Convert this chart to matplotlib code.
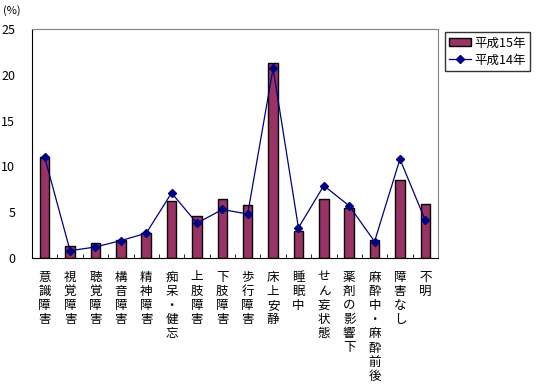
import matplotlib.pyplot as plt
import numpy as np

plt.rcParams['font.family'] = ['Noto Sans CJK JP', 'DejaVu Sans']

categories = ['意識障害', '視覚障害', '聴覚障害', '構音障害', '精神障害', '痴呆・健忘',
              '上肢障害', '下肢障害', '歩行障害', '床上安静', '睡眠中', 'せん妄状態',
              '薬剤の影響下', '麻酔中・麻酔前後', '障害なし', '不明']
h15 = [11.0, 1.3, 1.6, 2.0, 2.7, 6.2, 4.6, 6.4, 5.8, 21.3, 2.9, 6.4, 5.5, 2.0, 8.5, 5.9]
h14 = [11.0, 0.8, 1.2, 1.9, 2.7, 7.1, 3.8, 5.3, 4.8, 20.7, 3.3, 7.9, 5.7, 1.8, 10.8, 4.1]

fig = plt.figure(figsize=(5.39, 3.89), dpi=100)
ax = fig.add_axes([32 / 539, 1 - 258 / 389, 406 / 539, 229 / 389])

x = np.arange(len(categories))
bars = ax.bar(x, h15, width=0.37, color='#993366', edgecolor='black', linewidth=1, label='平成15年', zorder=2)
line, = ax.plot(x, h14, color='#000080', linewidth=0.9, marker='D', markersize=4.5, label='平成14年', zorder=3)

ax.set_xlim(-0.5, len(categories) - 0.5)
ax.set_ylim(0, 25)
ax.set_yticks([0, 5, 10, 15, 20, 25])
ax.tick_params(axis='y', length=0, labelsize=9, pad=12)

ax.set_xticks(x)
ax.set_xticklabels(['\n'.join(c) for c in categories], fontsize=9, linespacing=1.12, va='top')
ax.tick_params(axis='x', which='major', length=0, pad=9)
ax.set_xticks(np.arange(len(categories) + 1) - 0.5, minor=True)
ax.tick_params(axis='x', which='minor', direction='in', length=3)

for s in ['top', 'right']:
    ax.spines[s].set_color('#808080')
for s in ['left', 'bottom']:
    ax.spines[s].set_color('black')

fig.text(3 / 539, 1 - 11 / 389, '(%)', fontsize=8, va='center')

leg = ax.legend([bars, line], ['平成15年', '平成14年'], loc='upper left',
                bbox_to_anchor=(445 / 539, 1 - 32 / 389), bbox_transform=fig.transFigure,
                frameon=True, fancybox=False, fontsize=9, borderpad=0.35, handlelength=1.7,
                handletextpad=0.3, labelspacing=0.35, borderaxespad=0)
leg.get_frame().set_edgecolor('black')
leg.get_frame().set_linewidth(1)

fig.savefig('out.png', dpi=100)
